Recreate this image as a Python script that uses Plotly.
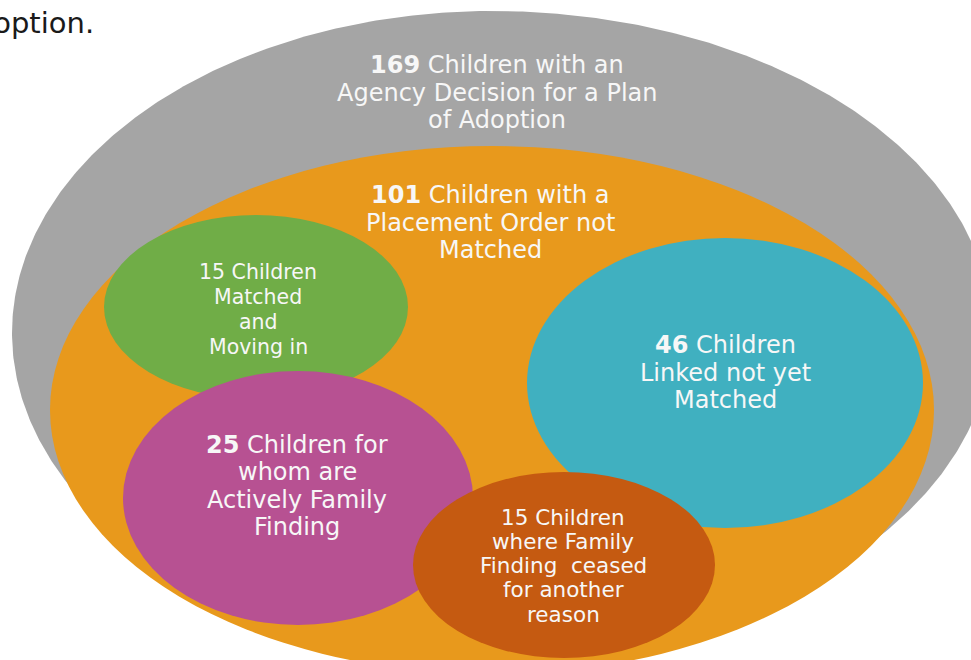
import numpy as np
import plotly.graph_objects as go

# counts and labels for each group
counts = [169, 101, 15, 46, 25, 15]
labels = [
    ["Children with an", "Agency Decision for a Plan", "of Adoption"],
    ["Children with a", "Placement Order not", "Matched"],
    ["Children", "Matched", "and", "Moving in"],
    ["Children", "Linked not yet", "Matched"],
    ["Children for", "whom are", "Actively Family", "Finding"],
    ["Children", "where Family", "Finding  ceased", "for another", "reason"],
]
bold_count = [True, True, False, True, True, False]

# outer (grey) ellipse is a bit wider on its right side: cx, cy, rx_left, rx_right, ry
outer = (492, 333, 480, 500, 322)
# inner ellipses (pixel space): cx, cy, rx, ry
geom = [
    (492, 410, 442, 264),
    (256, 307, 152, 92),
    (725, 383, 198, 145),
    (298, 498, 175, 127),
    (564, 565, 151, 93),
]
colors = ["#A5A5A5", "#E8991C", "#70AD47", "#40B0C0", "#B75192", "#C55A11"]
# text: centre x, centre y of first line, line step, font size
text_pos = [(497, 65), (490, 195), (258, 272), (725, 345), (297, 445), (563, 517)]
text_step = [27.5, 27.5, 25, 27.5, 27.3, 24.3]
text_size = [24, 24, 20.5, 24, 24, 21.5]

W, H = 971, 660

fig = go.Figure()

cx, cy, rxl, rxr, ry = outer
t = np.linspace(0, 2 * np.pi, 721)
ox = cx + np.where(np.cos(t) >= 0, rxr, rxl) * np.cos(t)
oy = cy + ry * np.sin(t)
fig.add_trace(go.Scatter(x=ox, y=oy, mode="lines", fill="toself", fillcolor=colors[0],
                         line=dict(width=0, color=colors[0]), hoverinfo="skip", showlegend=False))

for (ex, ey, rx, ry2), c in zip(geom, colors[1:]):
    fig.add_shape(type="circle", xref="x", yref="y",
                  x0=ex - rx, x1=ex + rx, y0=ey - ry2, y1=ey + ry2,
                  fillcolor=c, line=dict(width=0))

for n, lines, b, (tx, ty), step, sz in zip(counts, labels, bold_count, text_pos, text_step, text_size):
    num = f"<b>{n}</b>" if b else str(n)
    for i, line in enumerate(lines):
        txt = f"{num} {line}" if i == 0 else line
        fig.add_annotation(x=tx, y=ty + i * step, xref="x", yref="y", text=txt,
                           showarrow=False, xanchor="center", yanchor="middle",
                           font=dict(family="DejaVu Sans", size=sz, color="#F7F7F7"))

fig.add_annotation(x=96, y=23, xref="x", yref="y", text="adoption.",
                   showarrow=False, xanchor="right", yanchor="middle",
                   font=dict(family="DejaVu Sans", size=29, color="#1A1A1A"))

fig.update_xaxes(range=[0, W], visible=False)
fig.update_yaxes(range=[H, 0], visible=False)
fig.update_layout(width=W, height=H, margin=dict(l=0, r=0, t=0, b=0),
                  plot_bgcolor="white", paper_bgcolor="white", showlegend=False)

# drop the default 8px page margin so the figure fills the window
fig.write_html("out.html", config={"displayModeBar": False},
               post_script="document.body.style.margin='0';document.body.style.overflow='hidden';")
